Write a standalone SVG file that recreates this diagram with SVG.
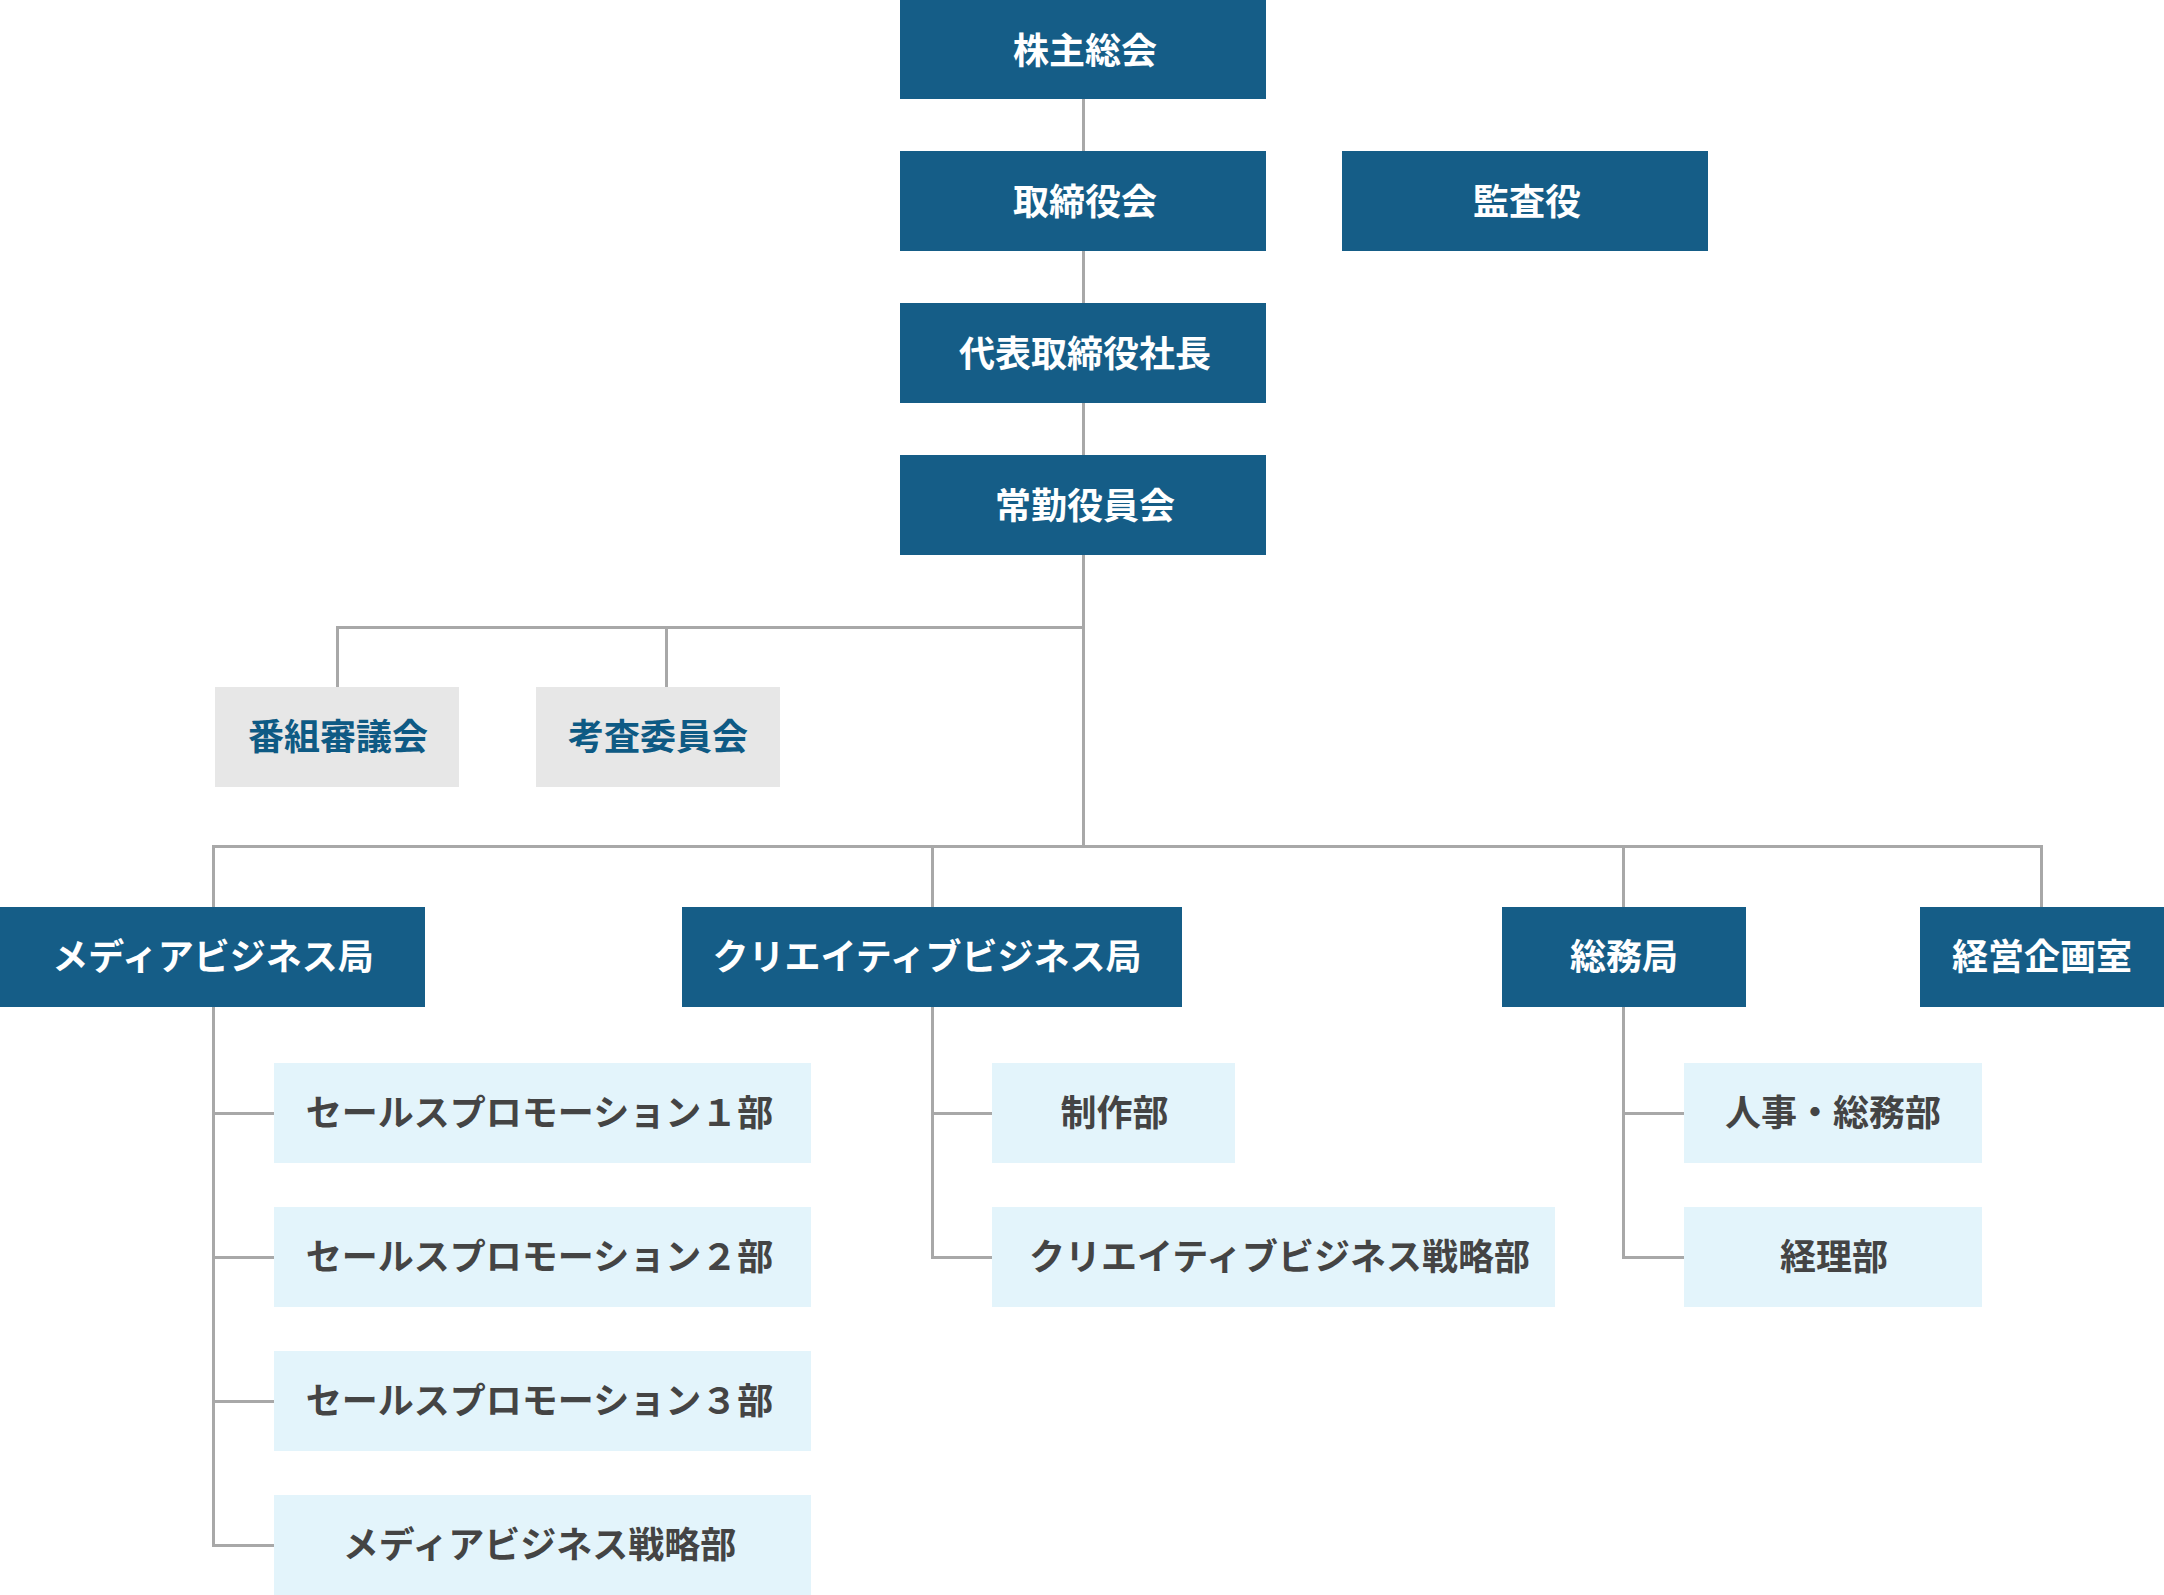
<svg xmlns="http://www.w3.org/2000/svg" width="2164" height="1595" viewBox="0 0 2164 1595">
<style>
.d{fill:#155d87}
.g{fill:#e7e7e7}
.l{fill:#e3f4fb}
text{font-family:"Noto Sans CJK JP","Noto Sans",sans-serif;font-size:36px;font-weight:700;text-anchor:middle}
.dt{fill:#ffffff}
.gt{fill:#0e5a84}
.lt{fill:#444444}
.c{fill:none;stroke:#a8a8a8;stroke-width:3}
</style>
<rect width="2164" height="1595" fill="#ffffff"/>
<g id="connectors">
<path class="c" d="M1083.5 99V846.5"/>
<path class="c" d="M337.5 687V627.5H1083.5M666.5 627.5V687"/>
<path class="c" d="M213.5 907V846.5H2041.5V907M932.5 846.5V907M1623.5 846.5V907"/>
<path class="c" d="M213.5 1007V1545.5H274M213.5 1113.5H274M213.5 1257.5H274M213.5 1401.5H274"/>
<path class="c" d="M932.5 1007V1257.5H992M932.5 1113.5H992"/>
<path class="c" d="M1623.5 1007V1257.5H1684M1623.5 1113.5H1684"/>
</g>
<g id="n1"><rect class="d" x="900" y="0" width="366" height="99"/><text class="dt" x="1085" y="64">株主総会</text></g>
<g id="n2"><rect class="d" x="900" y="151" width="366" height="100"/><text class="dt" x="1085" y="215">取締役会</text></g>
<g id="n3"><rect class="d" x="1342" y="151" width="366" height="100"/><text class="dt" x="1527" y="215">監査役</text></g>
<g id="n4"><rect class="d" x="900" y="303" width="366" height="100"/><text class="dt" x="1085" y="367">代表取締役社長</text></g>
<g id="n5"><rect class="d" x="900" y="455" width="366" height="100"/><text class="dt" x="1085" y="519">常勤役員会</text></g>
<g id="n6"><rect class="g" x="215" y="687" width="244" height="100"/><text class="gt" x="338" y="750">番組審議会</text></g>
<g id="n7"><rect class="g" x="536" y="687" width="244" height="100"/><text class="gt" x="658" y="750">考査委員会</text></g>
<g id="n8"><rect class="d" x="0" y="907" width="425" height="100"/><text class="dt" x="213" y="970">メディアビジネス局</text></g>
<g id="n9"><rect class="d" x="682" y="907" width="500" height="100"/><text class="dt" x="927" y="970">クリエイティブビジネス局</text></g>
<g id="n10"><rect class="d" x="1502" y="907" width="244" height="100"/><text class="dt" x="1624" y="970">総務局</text></g>
<g id="n11"><rect class="d" x="1920" y="907" width="244" height="100"/><text class="dt" x="2042" y="970">経営企画室</text></g>
<g id="n12"><rect class="l" x="274" y="1063" width="537" height="100"/><text class="lt" x="539.5" y="1126">セールスプロモーション１部</text></g>
<g id="n13"><rect class="l" x="274" y="1207" width="537" height="100"/><text class="lt" x="539.5" y="1270">セールスプロモーション２部</text></g>
<g id="n14"><rect class="l" x="274" y="1351" width="537" height="100"/><text class="lt" x="539.5" y="1414">セールスプロモーション３部</text></g>
<g id="n15"><rect class="l" x="274" y="1495" width="537" height="100"/><text class="lt" x="539.5" y="1558">メディアビジネス戦略部</text></g>
<g id="n16"><rect class="l" x="992" y="1063" width="243" height="100"/><text class="lt" x="1114.5" y="1126">制作部</text></g>
<g id="n17"><rect class="l" x="992" y="1207" width="563" height="100"/><text class="lt" x="1279.5" y="1270">クリエイティブビジネス戦略部</text></g>
<g id="n18"><rect class="l" x="1684" y="1063" width="298" height="100"/><text class="lt" x="1833" y="1126">人事・総務部</text></g>
<g id="n19"><rect class="l" x="1684" y="1207" width="298" height="100"/><text class="lt" x="1834" y="1270">経理部</text></g>
</svg>
